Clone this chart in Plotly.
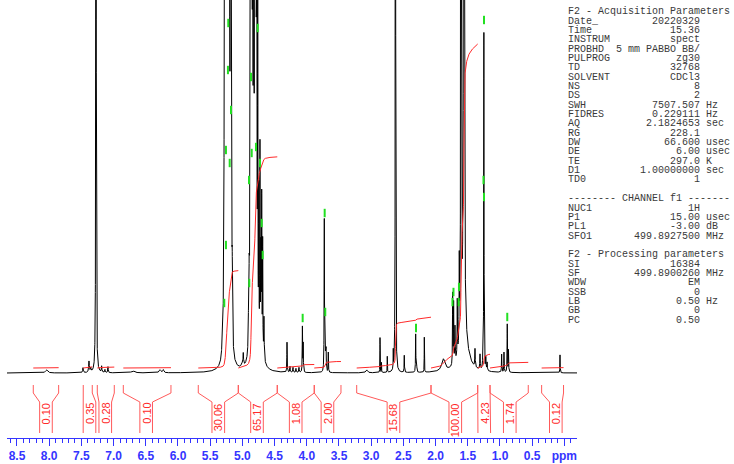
import numpy as np
import plotly.graph_objects as go

# ---------------- spectrum peaks (ppm, intensity, half-width ppm) ----------------
peak_ppm = [8.039, 7.475, 7.382, 7.355, 7.273, 7.185, 7.134, 7.087, 6.699, 6.280, 6.228,
            5.310, 5.290, 5.281, 5.268, 5.255, 5.244, 5.232, 5.224, 5.213, 5.200, 5.182, 5.170, 5.158,
            5.000, 4.986,
            4.905, 4.893, 4.880, 4.866, 4.855, 4.840, 4.825, 4.804, 4.789, 4.775, 4.762, 4.745,
            4.727, 4.712, 4.700, 4.685, 4.665, 4.700,
            4.307, 4.261, 4.214, 4.168, 4.121, 4.068, 4.056,
            3.728, 3.715, 3.700, 3.666, 3.070,
            2.863, 2.840, 2.750, 2.657, 2.623, 2.486, 2.309, 2.295, 2.175,
            1.880, 1.735, 1.720, 1.699, 1.663, 1.632, 1.605, 1.560, 1.560,
            1.388, 1.310, 1.262, 1.250, 1.220, 1.200,
            0.974, 0.938, 0.887, 0.868, 0.068]
peak_height = [3, 5, 11, 4, 1500, 6, 3, 6, 2, 3, 3,
               25, 90, 300, 900, 1600, 2500, 1200, 2500, 900, 700, 1800, 300, 60,
               4, 11,
               30, 90, 190, 2500, 1500, 600, 900, 2500, 800, 300, 340, 150,
               200, 120, 150, 110, 40, 12,
               30, 6, 5, 4, 5, 45, 28,
               151, 60, 22, 20, 3,
               35, 10, 16, 18, 1200, 17, 38, 12, 35,
               12, 71, 60, 35, 55, 80, 1500, 2000, 35,
               18, 15, 30, 335, 12, 8,
               18, 20, 48, 22, 18]
peak_hwhm = [0.02, 0.006, 0.006, 0.006, 0.0025, 0.004, 0.004, 0.004, 0.03, 0.015, 0.01,
             0.006, 0.004, 0.003, 0.003, 0.003, 0.003, 0.003, 0.003, 0.003, 0.003, 0.003, 0.003, 0.004,
             0.02, 0.004,
             0.005, 0.003, 0.003, 0.003, 0.003, 0.003, 0.003, 0.003, 0.003, 0.003, 0.003, 0.003,
             0.003, 0.003, 0.003, 0.003, 0.004, 0.05,
             0.003, 0.004, 0.004, 0.004, 0.004, 0.003, 0.003,
             0.003, 0.003, 0.003, 0.003, 0.015,
             0.002, 0.002, 0.002, 0.002, 0.0025, 0.003, 0.003, 0.003, 0.002,
             0.03, 0.003, 0.003, 0.004, 0.003, 0.003, 0.003, 0.004, 0.07,
             0.004, 0.004, 0.004, 0.0025, 0.004, 0.004,
             0.003, 0.003, 0.003, 0.003, 0.0025]

# ---------------- integrals ----------------
int_start = [8.247, 7.471, 7.253, 6.849, 5.685, 5.063, 4.458, 3.884, 3.225, 2.071, 1.346, 1.155, 0.353]
int_end = [7.853, 7.331, 6.989, 6.109, 5.063, 4.458, 3.884, 3.469, 2.071, 1.346, 1.155, 0.561, 0.013]
int_value = [0.10, 0.35, 0.28, 0.10, 30.06, 65.17, 1.08, 2.00, 15.68, 100.00, 4.23, 1.74, 0.12]
int_label_ppm = [8.050, 7.374, 7.129, 6.494, 5.374, 4.773, 4.172, 3.679, 2.654, 1.694, 1.244, 0.848, 0.133]

# ---------------- peak-pick marks ----------------
green_ppm = [5.219, 5.224, 5.177, 5.255, 5.197, 5.255, 5.281,
             4.762, 4.866, 4.855, 4.897, 4.789, 4.727, 4.893, 4.700, 4.685,
             4.064, 3.722, 3.713, 2.304, 1.738, 1.722, 1.637, 1.641, 1.248, 1.256, 1.248, 0.887]
green_height = [350, 303, 263, 223, 210, 128, 70,
                345, 296, 220, 193, 226, 210, 90, 150, 118,
                55, 160, 61, 45, 71, 81, 86, 71, 353, 193, 176, 56]

# ---------------- axis ticks ----------------
tick_vals = [8.5, 8.0, 7.5, 7.0, 6.5, 6.0, 5.5, 5.0, 4.5, 4.0, 3.5, 3.0, 2.5, 2.0, 1.5, 1.0, 0.5, 0.0]
tick_text = ["8.5", "8.0", "7.5", "7.0", "6.5", "6.0", "5.5", "5.0", "4.5", "4.0", "3.5",
             "3.0", "2.5", "2.0", "1.5", "1.0", "0.5", "ppm"]

# ---------------- parameter block ----------------
acq_names = ["Date_", "Time", "INSTRUM", "PROBHD", "PULPROG", "TD", "SOLVENT", "NS", "DS", "SWH",
             "FIDRES", "AQ", "RG", "DW", "DE", "TE", "D1", "TD0"]
acq_values = ["20220329", "15.36", "spect", "5 mm PABBO BB/", "zg30", "32768", "CDCl3", "8", "2",
              "7507.507", "0.229111", "2.1824653", "228.1", "66.600", "6.00", "297.0", "1.00000000", "1"]
acq_units = ["", "", "", "", "", "", "", "", "", "Hz", "Hz", "sec", "", "usec", "usec", "K", "sec", ""]
ch_names = ["NUC1", "P1", "PL1", "SFO1"]
ch_values = ["1H", "15.00", "-3.00", "499.8927500"]
ch_units = ["", "usec", "dB", "MHz"]
proc_names = ["SI", "SF", "WDW", "SSB", "LB", "GB", "PC"]
proc_values = ["16384", "499.8900260", "EM", "0", "0.50", "0", "0.50"]
proc_units = ["", "MHz", "", "", "Hz", "", ""]

# ---------------- build ----------------
ppm = np.round(np.arange(8.655, -0.1965, -0.0005), 4)
spec = np.zeros_like(ppm)
for p, h, w in zip(peak_ppm, peak_height, peak_hwhm):
    spec += h * w * w / ((ppm - p) ** 2 + w * w)

BLUE = "#3434ff"
RED = "#ff2a2a"
INT_BASE = 5.0
INT_SCALE = 3.24
TOP, MID, KNEE, BOT = -12, -20, -29, -60
HW = 0.098

fig = go.Figure()
fig.add_trace(go.Scatter(x=ppm, y=spec, mode="lines", line=dict(color="black", width=1),
                         hoverinfo="skip"))

ix, iy = [], []
bx, by = [], []
for a, b, v, L in zip(int_start, int_end, int_value, int_label_ppm):
    m = (ppm <= a) & (ppm >= b)
    xs = ppm[m]
    ys = spec[m]
    cum = np.concatenate([[0.0], np.cumsum((ys[1:] + ys[:-1]) / 2)])
    cum = cum / cum[-1]
    ix += list(xs) + [None]
    iy += list(INT_BASE + v * INT_SCALE * cum) + [None]
    bx += [a, a, L + HW, L + HW, None, b, b, L - HW, L - HW, None]
    by += [TOP, MID, KNEE, BOT, None, TOP, MID, KNEE, BOT, None]

fig.add_trace(go.Scatter(x=ix, y=iy, mode="lines", line=dict(color=RED, width=1), hoverinfo="skip"))
fig.add_trace(go.Scatter(x=bx, y=by, mode="lines", line=dict(color="#ff5a5a", width=1), hoverinfo="skip"))
fig.add_trace(go.Scatter(x=green_ppm, y=green_height, mode="markers",
                         marker=dict(symbol="line-ns", size=6, line=dict(color="#22e022", width=2)),
                         hoverinfo="skip"))

for v, L in zip(int_value, int_label_ppm):
    fig.add_annotation(x=L, y=KNEE - 1, xref="x", yref="y", text=f"{v:.2f}", textangle=-90,
                       showarrow=False, xanchor="center", yanchor="top", borderpad=0, borderwidth=0,
                       font=dict(family="Liberation Sans, Arial", size=11, color=RED))

# parameter text
PLOT_H = 438.0
W = 734.0
X0 = 568.0
CW = 6.0
def ypaper(i):
    return 1 - (11.7 + 9.35 * i) / PLOT_H

tfont = dict(family="Liberation Mono, Courier New, monospace", size=10, color="#3a3a3a")
def txt(x, i, s, anchor):
    fig.add_annotation(x=x / W, y=ypaper(i), xref="paper", yref="paper", text=s, showarrow=False,
                       xanchor=anchor, yanchor="middle", borderpad=0, borderwidth=0, font=tfont)

rows = []
rows.append(("F2 - Acquisition Parameters", None, None))
rows += list(zip(acq_names, acq_values, acq_units))
rows.append(None)
rows.append(("-------- CHANNEL f1 -------", None, None))
rows += list(zip(ch_names, ch_values, ch_units))
rows.append(None)
rows.append(("F2 - Processing parameters", None, None))
rows += list(zip(proc_names, proc_values, proc_units))

for i, r in enumerate(rows):
    if r is None:
        continue
    name, val, unit = r
    txt(X0, i, name, "left")
    if val:
        txt(X0 + 22 * CW, i, val, "right")
    if unit:
        txt(X0 + 23 * CW, i, unit, "left")

minor_vals = [round(8.6 - 0.1 * k, 1) for k in range(89)]

fig.update_layout(
    width=734, height=464, margin=dict(l=0, r=0, t=0, b=26),
    plot_bgcolor="white", paper_bgcolor="white", showlegend=False,
    xaxis=dict(domain=[7 / 734, 577 / 734], range=[8.655, -0.196], tickmode="array",
               tickvals=tick_vals, ticktext=tick_text, ticks="outside", ticklen=7, tickwidth=1,
               tickcolor=BLUE, showline=True, linecolor=BLUE, linewidth=1, showgrid=False,
               zeroline=False,
               tickfont=dict(family="Liberation Sans, Arial", size=12, color=BLUE, weight="bold"),
               minor=dict(tickvals=minor_vals, ticks="outside", ticklen=4, tickcolor=BLUE,
                          tickwidth=1, showgrid=False)),
    yaxis=dict(range=[-65, 373], visible=False, showgrid=False, zeroline=False),
)

fig.write_html("out.html", config={"displayModeBar": False, "staticPlot": True},
               post_script="document.body.style.margin='0';document.body.style.overflow='hidden';")
